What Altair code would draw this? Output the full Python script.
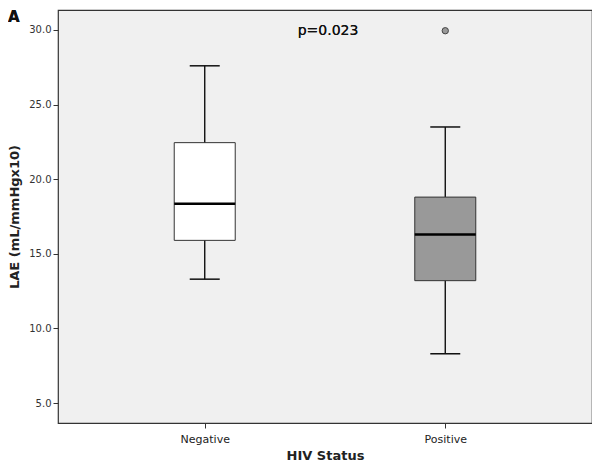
import altair as alt
import pandas as pd

groups = ["Negative", "Positive"]
whisker_low = [13.3, 8.3]
q1 = [15.9, 13.2]
median = [18.35, 16.3]
q3 = [22.45, 18.8]
whisker_high = [27.6, 23.5]
box_fill = ["#ffffff", "#999999"]
outlier_group = ["Positive"]
outlier_value = [29.95]

df = pd.DataFrame({"group": groups, "lo": whisker_low, "q1": q1, "med": median,
                   "q3": q3, "hi": whisker_high, "fill": box_fill})
out = pd.DataFrame({"group": outlier_group, "v": outlier_value})

font = "DejaVu Sans"
xs = alt.X("group:N", title="HIV Status", sort=groups,
           scale=alt.Scale(type="point", padding=0.61),
           axis=alt.Axis(labelAngle=0, labelFontSize=11, labelColor="#222", labelFont=font,
                         titleFont=font, titleFontSize=13, titleFontWeight="bold", titleColor="#222",
                         tickColor="#333", tickSize=5, domain=False, labelPadding=5, titlePadding=5))
yscale = alt.Scale(domain=[3.66, 31.34], nice=False, zero=False)
yax = alt.Axis(values=[5, 10, 15, 20, 25, 30], format=".1f", grid=False, domain=False,
               labelFontSize=10, labelColor="#333", labelFont=font, tickColor="#333", tickSize=5,
               titleFont=font, titleFontSize=13, titleFontWeight="bold", titleColor="#222",
               titlePadding=7)

base = alt.Chart(df)
whisk = base.mark_rule(color="#111", strokeWidth=1.4).encode(
    x=xs, y=alt.Y("lo:Q", scale=yscale, axis=yax, title="LAE (mL/mmHgx10)"), y2="hi:Q")
caps_lo = base.mark_tick(color="#111", thickness=1.5, size=30, orient="horizontal",
                         opacity=1).encode(x=xs, y=alt.Y("lo:Q", scale=yscale))
caps_hi = base.mark_tick(color="#111", thickness=1.5, size=30, orient="horizontal",
                         opacity=1).encode(x=xs, y=alt.Y("hi:Q", scale=yscale))
box = base.mark_bar(size=61, stroke="#333", strokeWidth=1, opacity=1).encode(
    x=xs, y=alt.Y("q1:Q", scale=yscale), y2="q3:Q",
    fill=alt.Fill("fill:N", scale=None))
med = base.mark_tick(color="#000", thickness=2.5, size=61, orient="horizontal",
                     opacity=1).encode(x=xs, y=alt.Y("med:Q", scale=yscale))
pts = alt.Chart(out).mark_point(filled=True, fill="#999999", stroke="#444", strokeWidth=1,
                                size=40, opacity=1).encode(
    x=xs, y=alt.Y("v:Q", scale=yscale))
ptxt = alt.Chart(df).mark_text(text="p=0.023", font=font, fontSize=14, fontWeight="normal",
                               color="#111", align="center", baseline="middle").encode(
    x=alt.value(270), y=alt.value(21))
letter = alt.Chart(df).mark_text(text="A", font=font, fontSize=15, fontWeight="bold",
                                 color="#111", align="left", baseline="top").encode(
    x=alt.value(-50), y=alt.value(0))

chart = alt.layer(whisk, caps_lo, caps_hi, box, med, pts, ptxt, letter).properties(
    width=534, height=413, padding={"left": 50, "top": 2, "right": 0, "bottom": 40},
    autosize=alt.AutoSizeParams(type="none"),
    background="white"
).configure_view(fill="#f0f0f0", stroke="#333", strokeWidth=1.2)

chart.save("out.html", embed_options={"renderer": "svg", "actions": False})
